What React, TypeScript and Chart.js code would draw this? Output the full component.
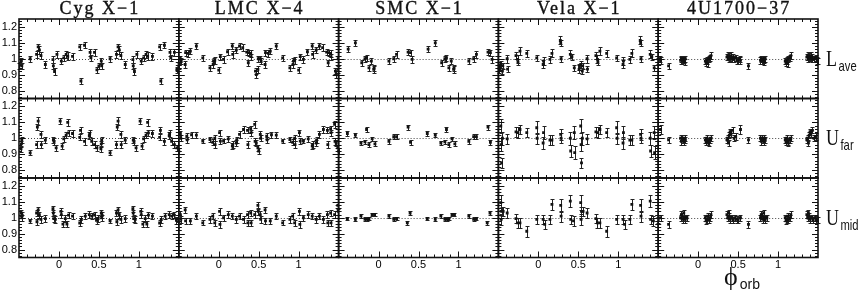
import React, { useEffect, useRef } from 'react';
import { Chart, registerables } from 'chart.js';

Chart.register(...registerables);

const SOURCES = ['Cyg X\u22121', 'LMC X\u22124', 'SMC X\u22121', 'Vela X\u22121', '4U1700\u221237'];
const BANDS = [['L', 'ave'], ['U', 'far'], ['U', 'mid']];
const X_TICKS = [0, 0.5, 1];
const Y_TICKS = [0.8, 0.9, 1, 1.1, 1.2];
const X_RANGE = [-0.5, 1.5];
const Y_RANGE = [0.75, 1.25];
const REF_LEVEL = 1;
const X_LABEL = ['\u03D5', 'orb'];

// [orbital phase, normalised rate, error]
const CYG_LAVE = [
  [0.03, 0.985, 0.02], [0.06, 1.005, 0.02], [0.09, 1.027, 0.02], [0.11, 1.015, 0.025], [0.17, 1.015, 0.02],
  [0.26, 1.075, 0.02], [0.275, 0.86, 0.02], [0.32, 1.085, 0.02], [0.39, 1.04, 0.02], [0.40, 1.006, 0.02],
  [0.445, 1.04, 0.02], [0.475, 0.93, 0.02], [0.50, 0.955, 0.02], [0.53, 0.985, 0.02], [0.535, 0.955, 0.02],
  [0.64, 1.0, 0.02], [0.72, 1.027, 0.02], [0.74, 1.075, 0.02], [0.755, 1.055, 0.025], [0.775, 1.02, 0.02],
  [0.83, 0.964, 0.02], [0.925, 0.995, 0.02], [0.93, 0.955, 0.02], [0.945, 0.92, 0.02], [0.975, 1.027, 0.02],
];
const CYG_UFAR = [
  [0.016, 1.108, 0.02], [0.04, 0.95, 0.02], [0.06, 0.996, 0.02], [0.09, 1.02, 0.02], [0.11, 1.10, 0.02],
  [0.12, 1.034, 0.02], [0.17, 1.03, 0.02], [0.26, 1.006, 0.02], [0.27, 1.05, 0.02], [0.32, 0.98, 0.02],
  [0.38, 1.017, 0.02], [0.385, 1.03, 0.02], [0.41, 0.98, 0.02], [0.445, 0.96, 0.02], [0.475, 0.94, 0.02],
  [0.525, 0.934, 0.02], [0.53, 0.965, 0.02], [0.535, 0.99, 0.02], [0.64, 0.908, 0.015], [0.72, 0.96, 0.02],
  [0.73, 1.07, 0.02], [0.74, 1.108, 0.025], [0.775, 1.024, 0.02], [0.78, 0.96, 0.02], [0.83, 0.988, 0.02],
  [0.93, 0.988, 0.02], [0.94, 0.98, 0.02], [0.965, 0.94, 0.02],
];
const CYG_UMID = [
  [0.025, 1.04, 0.02], [0.03, 1.02, 0.02], [0.05, 0.96, 0.02], [0.08, 0.995, 0.02], [0.10, 0.96, 0.02],
  [0.12, 1.017, 0.02], [0.17, 1.01, 0.02], [0.26, 0.967, 0.02], [0.28, 0.99, 0.02], [0.33, 1.01, 0.02],
  [0.38, 1.02, 0.02], [0.41, 1.01, 0.02], [0.445, 1.017, 0.02], [0.47, 0.983, 0.02], [0.49, 0.995, 0.02],
  [0.53, 1.03, 0.02], [0.535, 1.0, 0.02], [0.54, 1.017, 0.02], [0.64, 0.98, 0.015], [0.72, 1.03, 0.02],
  [0.725, 0.975, 0.02], [0.74, 1.05, 0.02], [0.755, 1.017, 0.02], [0.775, 0.99, 0.02], [0.83, 0.995, 0.02],
  [0.925, 1.057, 0.02], [0.93, 1.03, 0.02], [0.935, 0.995, 0.02], [0.955, 0.99, 0.02],
];
const LMC_LAVE = [
  [0.0, 0.928, 0.02], [0.02, 1.013, 0.02], [0.06, 0.996, 0.02], [0.11, 1.044, 0.02], [0.17, 1.08, 0.02],
  [0.175, 1.027, 0.02], [0.22, 1.055, 0.02], [0.26, 1.08, 0.02], [0.30, 1.07, 0.02], [0.35, 1.042, 0.02],
  [0.37, 0.975, 0.02], [0.375, 1.038, 0.02], [0.40, 1.034, 0.02], [0.405, 1.013, 0.02], [0.46, 0.922, 0.02],
  [0.47, 0.9, 0.02], [0.49, 0.933, 0.02], [0.495, 1.0, 0.02], [0.52, 1.0, 0.02], [0.53, 0.985, 0.02],
  [0.58, 0.964, 0.02], [0.585, 1.038, 0.02], [0.62, 1.034, 0.02], [0.645, 1.048, 0.02], [0.72, 1.08, 0.02],
  [0.80, 1.006, 0.02], [0.89, 0.943, 0.02], [0.93, 0.964, 0.02], [0.935, 0.985, 0.02], [0.95, 0.99, 0.02],
];
const LMC_UFAR = [
  [0.01, 1.035, 0.02], [0.02, 0.982, 0.02], [0.06, 0.982, 0.015], [0.12, 0.996, 0.02], [0.17, 0.95, 0.02],
  [0.175, 0.96, 0.02], [0.22, 0.97, 0.02], [0.225, 0.99, 0.02], [0.26, 1.024, 0.02], [0.31, 1.055, 0.02],
  [0.36, 1.05, 0.02], [0.365, 0.96, 0.02], [0.40, 1.06, 0.02], [0.405, 1.035, 0.02], [0.45, 1.087, 0.02],
  [0.455, 0.98, 0.02], [0.47, 0.97, 0.02], [0.49, 0.94, 0.02], [0.50, 0.92, 0.02], [0.52, 1.024, 0.02],
  [0.525, 1.0, 0.02], [0.60, 1.013, 0.02], [0.605, 0.99, 0.02], [0.66, 1.022, 0.02], [0.72, 1.02, 0.02],
  [0.80, 0.982, 0.015], [0.89, 0.992, 0.015], [0.925, 0.975, 0.02], [0.95, 1.0, 0.02], [0.955, 0.96, 0.02],
];
const LMC_UMID = [
  [0.01, 1.04, 0.02], [0.015, 0.958, 0.02], [0.06, 1.0, 0.02], [0.12, 1.02, 0.02], [0.17, 1.01, 0.02],
  [0.22, 0.99, 0.02], [0.26, 1.01, 0.02], [0.31, 0.99, 0.02], [0.36, 1.02, 0.02], [0.365, 0.968, 0.02],
  [0.40, 1.03, 0.02], [0.405, 0.968, 0.02], [0.45, 1.02, 0.02], [0.49, 1.078, 0.02], [0.495, 1.04, 0.02],
  [0.52, 1.02, 0.02], [0.525, 0.99, 0.02], [0.58, 1.05, 0.02], [0.585, 0.98, 0.02], [0.645, 0.98, 0.02],
  [0.72, 1.01, 0.02], [0.80, 0.968, 0.015], [0.89, 0.99, 0.02], [0.925, 1.01, 0.02], [0.95, 0.968, 0.02],
];
const SMC_LAVE = [
  [0.13, 0.985, 0.02], [0.19, 1.0, 0.02], [0.225, 1.027, 0.02], [0.37, 1.042, 0.02], [0.40, 1.038, 0.02],
  [0.42, 0.996, 0.02], [0.62, 1.06, 0.02], [0.71, 1.1, 0.02], [0.79, 0.975, 0.02], [0.83, 1.0, 0.02],
  [0.85, 1.006, 0.02], [0.88, 0.943, 0.02], [0.91, 0.985, 0.02], [0.94, 0.933, 0.02], [0.945, 0.94, 0.02],
];
const SMC_UFAR = [
  [0.13, 0.98, 0.015], [0.19, 1.01, 0.015], [0.225, 1.01, 0.015], [0.37, 1.07, 0.015], [0.40, 0.975, 0.015],
  [0.61, 1.03, 0.015], [0.71, 1.02, 0.015], [0.78, 0.97, 0.015], [0.83, 0.977, 0.015], [0.85, 1.055, 0.015],
  [0.88, 0.96, 0.015], [0.92, 0.996, 0.015], [0.955, 0.965, 0.015],
];
const SMC_UMID = [
  [0.13, 1.01, 0.012], [0.19, 0.99, 0.012], [0.225, 0.995, 0.012], [0.36, 0.968, 0.012], [0.395, 1.03, 0.012],
  [0.61, 0.995, 0.012], [0.71, 0.99, 0.012], [0.78, 1.01, 0.012], [0.83, 0.99, 0.012], [0.86, 0.99, 0.012],
  [0.88, 0.995, 0.012], [0.92, 1.02, 0.012], [0.95, 1.02, 0.012],
];
const VELA_LAVE = [
  [0.06, 0.964, 0.025], [0.065, 0.985, 0.025], [0.145, 0.996, 0.02], [0.17, 1.034, 0.025], [0.275, 1.115, 0.025],
  [0.28, 1.1, 0.02], [0.285, 1.0, 0.02], [0.40, 1.027, 0.025], [0.42, 1.013, 0.02], [0.45, 0.943, 0.02],
  [0.51, 0.933, 0.025], [0.515, 0.95, 0.02], [0.53, 0.964, 0.02], [0.55, 0.922, 0.02], [0.555, 0.955, 0.02],
  [0.61, 1.0, 0.025], [0.615, 0.935, 0.02], [0.72, 1.02, 0.02], [0.74, 0.996, 0.025], [0.745, 0.98, 0.02],
  [0.77, 1.048, 0.025], [0.855, 1.034, 0.02], [0.98, 1.006, 0.02],
];
const VELA_UFAR = [
  [0.06, 0.97, 0.04], [0.065, 1.035, 0.04], [0.145, 0.988, 0.03], [0.17, 0.988, 0.03], [0.28, 1.024, 0.035],
  [0.285, 1.0, 0.03], [0.40, 1.0, 0.04], [0.405, 0.92, 0.04], [0.45, 1.035, 0.04], [0.455, 0.91, 0.04],
  [0.53, 1.077, 0.045], [0.535, 0.96, 0.04], [0.54, 0.845, 0.03], [0.55, 1.0, 0.04], [0.61, 0.996, 0.03],
  [0.72, 1.04, 0.03], [0.745, 1.035, 0.035], [0.77, 1.055, 0.03], [0.855, 1.035, 0.03], [0.98, 1.066, 0.04],
  [0.985, 1.0, 0.035],
];
const VELA_UMID = [
  [0.06, 0.99, 0.03], [0.08, 0.958, 0.03], [0.145, 0.99, 0.03], [0.17, 1.084, 0.035], [0.28, 1.078, 0.04],
  [0.285, 1.01, 0.035], [0.40, 1.105, 0.035], [0.405, 0.99, 0.03], [0.44, 0.98, 0.03], [0.53, 1.095, 0.045],
  [0.535, 0.99, 0.035], [0.54, 1.04, 0.03], [0.56, 1.04, 0.03], [0.61, 1.03, 0.03], [0.72, 0.994, 0.03],
  [0.74, 0.968, 0.03], [0.77, 0.968, 0.03], [0.855, 0.915, 0.035], [0.98, 0.99, 0.03],
];
const U4_LAVE = [
  [0.09, 0.985, 0.02], [0.10, 0.975, 0.02], [0.11, 0.99, 0.02], [0.12, 0.97, 0.02], [0.13, 1.0, 0.02],
  [0.15, 1.005, 0.02], [0.16, 1.02, 0.02], [0.36, 1.01, 0.02], [0.37, 1.02, 0.02], [0.38, 1.0, 0.02],
  [0.39, 1.015, 0.02], [0.40, 1.005, 0.02], [0.41, 1.02, 0.02], [0.42, 1.0, 0.02], [0.43, 1.01, 0.02],
  [0.45, 1.0, 0.02], [0.47, 1.005, 0.02], [0.49, 0.99, 0.02], [0.50, 0.985, 0.02], [0.52, 1.0, 0.02],
  [0.53, 0.99, 0.02], [0.63, 0.955, 0.02], [0.78, 0.99, 0.02], [0.79, 1.0, 0.02], [0.80, 0.985, 0.02],
  [0.81, 1.0, 0.02], [0.82, 0.995, 0.02], [0.83, 0.98, 0.02], [0.84, 1.0, 0.02],
];
const U4_UFAR = [
  [0.09, 0.99, 0.02], [0.10, 0.975, 0.02], [0.11, 1.0, 0.02], [0.12, 0.98, 0.02], [0.13, 0.97, 0.02],
  [0.15, 0.99, 0.02], [0.16, 1.0, 0.02], [0.36, 0.99, 0.02], [0.37, 1.0, 0.02], [0.38, 0.97, 0.02],
  [0.39, 1.02, 0.02], [0.40, 1.04, 0.02], [0.41, 1.03, 0.02], [0.43, 1.05, 0.02], [0.45, 1.0, 0.02],
  [0.47, 1.01, 0.02], [0.53, 1.055, 0.03], [0.63, 0.99, 0.02], [0.78, 1.0, 0.02], [0.79, 0.98, 0.02],
  [0.80, 1.0, 0.02], [0.81, 0.99, 0.02], [0.82, 0.98, 0.02], [0.83, 1.0, 0.02], [0.84, 0.99, 0.02],
];
const U4_UMID = [
  [0.09, 1.0, 0.02], [0.10, 0.98, 0.02], [0.11, 0.99, 0.02], [0.12, 1.01, 0.02], [0.13, 0.985, 0.02],
  [0.15, 1.0, 0.02], [0.16, 1.02, 0.02], [0.36, 1.02, 0.02], [0.37, 1.0, 0.02], [0.38, 1.03, 0.02],
  [0.39, 1.01, 0.02], [0.40, 0.99, 0.02], [0.42, 1.0, 0.02], [0.44, 0.985, 0.02], [0.46, 1.0, 0.02],
  [0.48, 0.99, 0.02], [0.50, 0.985, 0.02], [0.53, 1.0, 0.02], [0.63, 0.958, 0.02], [0.78, 1.0, 0.02],
  [0.79, 1.02, 0.02], [0.80, 1.01, 0.02], [0.81, 0.99, 0.02], [0.82, 1.03, 0.02], [0.83, 1.0, 0.02],
  [0.84, 0.99, 0.02], [0.86, 1.0, 0.02],
];

const SERIES = [
  [CYG_LAVE, CYG_UFAR, CYG_UMID],
  [LMC_LAVE, LMC_UFAR, LMC_UMID],
  [SMC_LAVE, SMC_UFAR, SMC_UMID],
  [VELA_LAVE, VELA_UFAR, VELA_UMID],
  [U4_LAVE, U4_UFAR, U4_UMID],
];

// phase-folded data are shown over two cycles
function fold(arr: number[][]) {
  const out: { x: number; y: number; e: number }[] = [];
  for (const [p, v, e] of arr) {
    for (const k of [-1, 0, 1]) {
      const q = p + k;
      if (q >= X_RANGE[0] && q <= X_RANGE[1]) out.push({ x: q, y: v, e });
    }
  }
  return out;
}

const INK = '#111';

const errorBarPlugin = {
  id: 'errorBars',
  beforeDatasetsDraw(chart: any) {
    const ctx = chart.ctx;
    ctx.save();
    ctx.strokeStyle = '#222';
    ctx.lineWidth = 1;
    chart.data.datasets.forEach((ds: any, i: number) => {
      const meta = chart.getDatasetMeta(i);
      const ys = chart.scales[ds.yAxisID];
      meta.data.forEach((el: any, j: number) => {
        const d = ds.data[j];
        const x = Math.round(el.x) + 0.5;
        const y1 = Math.round(ys.getPixelForValue(d.y + d.e)) + 0.5;
        const y2 = Math.round(ys.getPixelForValue(d.y - d.e)) + 0.5;
        ctx.beginPath();
        ctx.moveTo(x, y1);
        ctx.lineTo(x, y2);
        ctx.moveTo(x - 2, y1);
        ctx.lineTo(x + 2, y1);
        ctx.moveTo(x - 2, y2);
        ctx.lineTo(x + 2, y2);
        ctx.stroke();
      });
    });
    ctx.restore();
  },
};

function drawLabel(ctx: any, main: string, sub: string, x: number, base: number, mainFont: string, subFont: string, squeeze: number, subDrop: number) {
  ctx.save();
  ctx.translate(x, base);
  ctx.scale(squeeze, 1);
  ctx.font = mainFont;
  ctx.fillText(main, 0, 0);
  const w = ctx.measureText(main).width;
  ctx.font = subFont;
  ctx.fillText(sub, w + 2, subDrop);
  ctx.restore();
}

const framePlugin = {
  id: 'frames',
  beforeDatasetsDraw(chart: any) {
    const ctx = chart.ctx;
    ctx.save();
    ctx.strokeStyle = '#444';
    ctx.lineWidth = 1;
    ctx.setLineDash([1, 2]);
    for (let c = 0; c < SOURCES.length; c++) {
      for (let r = 0; r < BANDS.length; r++) {
        const xs = chart.scales['x' + c];
        const ys = chart.scales['y' + r];
        const py = Math.round(ys.getPixelForValue(REF_LEVEL)) + 0.5;
        ctx.beginPath();
        ctx.moveTo(xs.left, py);
        ctx.lineTo(xs.right, py);
        ctx.stroke();
      }
    }
    ctx.restore();
  },
  afterDraw(chart: any) {
    const ctx = chart.ctx;
    ctx.save();
    ctx.strokeStyle = INK;
    for (let c = 0; c < SOURCES.length; c++) {
      const xs = chart.scales['x' + c];
      for (let r = 0; r < BANDS.length; r++) {
        const ys = chart.scales['y' + r];
        const L = xs.left, R = xs.right, T = ys.top, B = ys.bottom;
        ctx.lineWidth = 1.6;
        ctx.strokeRect(L, T, R - L, B - T);
        ctx.lineWidth = 1;
        ctx.beginPath();
        for (let i = -4; i <= 14; i++) {
          const v = i / 10;
          const px = Math.round(xs.getPixelForValue(v)) + 0.5;
          const len = i % 5 === 0 ? 6 : 3;
          ctx.moveTo(px, T);
          ctx.lineTo(px, T + len);
          ctx.moveTo(px, B);
          ctx.lineTo(px, B - len);
        }
        for (let i = 38; i <= 62; i++) {
          const v = i / 50;
          const py = Math.round(ys.getPixelForValue(v)) + 0.5;
          const len = i % 5 === 0 ? 6 : 3;
          ctx.moveTo(L, py);
          ctx.lineTo(L + len, py);
          ctx.moveTo(R, py);
          ctx.lineTo(R - len, py);
        }
        ctx.stroke();
      }
      // column titles
      ctx.fillStyle = INK;
      ctx.font = '18px "Liberation Serif"';
      (ctx as any).letterSpacing = '2px';
      ctx.textAlign = 'center';
      ctx.textBaseline = 'alphabetic';
      ctx.lineWidth = 0.35;
      const tx = (xs.left + xs.right) / 2 + 1;
      ctx.fillText(SOURCES[c], tx, 14);
      ctx.strokeText(SOURCES[c], tx, 14);
      (ctx as any).letterSpacing = '0px';
    }
    // row labels
    const last = chart.scales['x' + (SOURCES.length - 1)];
    ctx.textAlign = 'left';
    ctx.textBaseline = 'alphabetic';
    ctx.fillStyle = INK;
    for (let r = 0; r < BANDS.length; r++) {
      const ys = chart.scales['y' + r];
      const py = ys.getPixelForValue(REF_LEVEL);
      drawLabel(ctx, BANDS[r][0], BANDS[r][1], last.right + 8, py + 7,
        '24px "Liberation Serif"', '15px "Liberation Sans"', 0.75, 5);
    }
    // x axis label
    const cx = last.getPixelForValue(0.5) - 14;
    drawLabel(ctx, X_LABEL[0], X_LABEL[1], cx, 285, '26px "Liberation Serif"', '14px "Liberation Sans"', 1, 4);
    ctx.restore();
  },
};

export default function App() {
  const ref = useRef<HTMLCanvasElement>(null);
  useEffect(() => {
    if (!ref.current) return;
    const datasets: any[] = [];
    SERIES.forEach((bands, c) =>
      bands.forEach((arr, r) =>
        datasets.push({
          label: SOURCES[c] + ' ' + BANDS[r].join(''),
          data: fold(arr),
          xAxisID: 'x' + c,
          yAxisID: 'y' + r,
          pointStyle: 'rect',
          pointRadius: 2,
          backgroundColor: INK,
          borderColor: INK,
          borderWidth: 0,
          showLine: false,
        })
      )
    );
    const tickFont = { family: '"Liberation Sans", Arial, sans-serif', size: 11 };
    const scales: any = {};
    SOURCES.forEach((_, c) => {
      scales['x' + c] = {
        type: 'linear',
        axis: 'x',
        position: 'bottom',
        stack: 'cols',
        stackWeight: 1,
        weight: c,
        min: X_RANGE[0],
        max: X_RANGE[1],
        afterBuildTicks: (s: any) => {
          s.ticks = X_TICKS.map((value) => ({ value }));
        },
        afterFit: (s: any) => {
          s.height = 16;
        },
        grid: { display: false, drawTicks: false },
        border: { display: false },
        ticks: {
          autoSkip: false,
          maxRotation: 0,
          padding: 1,
          color: '#000',
          font: tickFont,
          callback: (v: any) => String(v),
        },
      };
    });
    BANDS.forEach((_, r) => {
      scales['y' + r] = {
        type: 'linear',
        axis: 'y',
        position: 'left',
        stack: 'rows',
        stackWeight: 1,
        weight: BANDS.length - 1 - r,
        min: Y_RANGE[0],
        max: Y_RANGE[1],
        afterBuildTicks: (s: any) => {
          s.ticks = Y_TICKS.map((value) => ({ value }));
        },
        afterFit: (s: any) => {
          s.width = 19;
        },
        grid: { display: false, drawTicks: false },
        border: { display: false },
        ticks: {
          autoSkip: false,
          padding: 2,
          color: '#000',
          font: tickFont,
          callback: (v: any) => String(v),
        },
      };
    });
    const chart = new Chart(ref.current, {
      type: 'scatter',
      data: { datasets },
      options: {
        responsive: false,
        maintainAspectRatio: false,
        animation: false,
        devicePixelRatio: 1,
        events: [],
        layout: { padding: { left: 0, top: 19, right: 44, bottom: 17.5 } },
        plugins: { legend: { display: false }, tooltip: { enabled: false }, title: { display: false } },
        scales,
      },
      plugins: [framePlugin, errorBarPlugin],
    } as any);
    return () => chart.destroy();
  }, []);
  return (
    <div style={{ position: 'fixed', left: 0, top: 0, width: 862, height: 291, background: '#fff' }}>
      <canvas ref={ref} width={862} height={291} style={{ display: 'block' }} />
    </div>
  );
}
